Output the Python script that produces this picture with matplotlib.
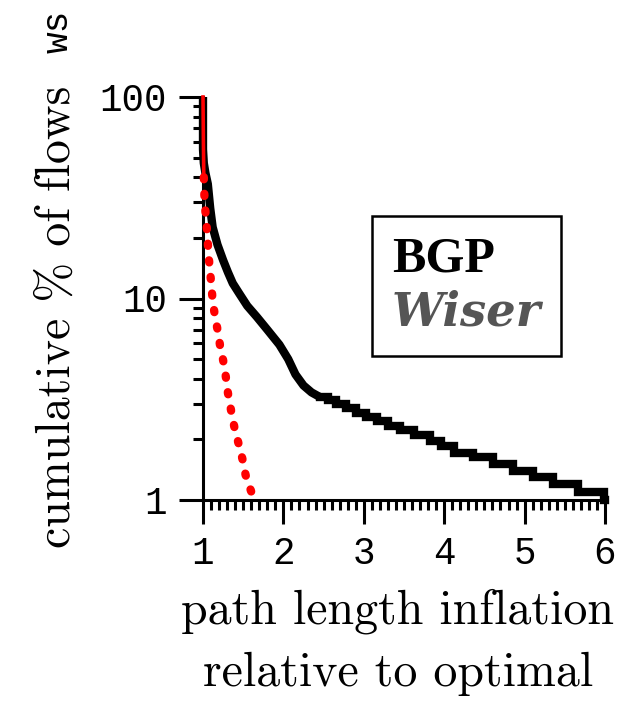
import numpy as np
import matplotlib
matplotlib.use("Agg")
import matplotlib.pyplot as plt
from matplotlib.lines import Line2D

# path length inflation (x) vs cumulative % of flows (y)
# smooth head of the BGP curve
bgp_x = [1.0, 1.0, 1.01, 1.03, 1.06, 1.09, 1.12, 1.18, 1.25, 1.31, 1.37, 1.45,
         1.55, 1.67, 1.80, 1.95, 2.06, 2.15, 2.25, 2.35, 2.45]
bgp_y = [100, 55, 47, 42, 37, 28, 22.6, 18.5, 15.5, 13.5, 11.9, 10.6,
         9.2, 8.1, 7.0, 5.9, 5.0, 4.2, 3.7, 3.42, 3.25]
# stepped tail of the BGP curve
bgp_step_x = [2.45, 2.55, 2.65, 2.78, 2.90, 3.03, 3.16, 3.30, 3.45, 3.63, 3.82,
              3.96, 4.12, 4.36, 4.61, 4.86, 5.10, 5.35, 5.66, 5.99, 6.0]
bgp_step_y = [3.25, 3.12, 3.0, 2.85, 2.70, 2.58, 2.46, 2.34, 2.22, 2.10, 1.97,
              1.86, 1.72, 1.63, 1.51, 1.40, 1.30, 1.20, 1.09, 1.0, 1.0]

wiser_top_x = [1.0, 1.005, 1.01]
wiser_top_y = [100, 60, 40]
wiser_x = [1.01, 1.02, 1.04, 1.075, 1.10, 1.12, 1.15, 1.19, 1.22, 1.25, 1.28,
           1.31, 1.35, 1.39, 1.44, 1.49, 1.53, 1.60]
wiser_y = [40, 30, 24.5, 15.5, 12.1, 9.8, 8.1, 6.7, 5.55, 4.95, 4.2,
           3.4, 2.77, 2.30, 1.92, 1.60, 1.33, 1.10]

x_ticks = [1, 2, 3, 4, 5, 6]
y_ticks = [1, 10, 100]

fig = plt.figure(figsize=(6.18, 7.02), dpi=100)
ax = fig.add_axes([203/618, 1-500/702, 402/618, 403/702])

ax.plot(bgp_x, bgp_y, color="black", lw=6, solid_capstyle="butt",
        clip_on=False, zorder=2)
ax.plot(bgp_step_x, bgp_step_y, color="black", lw=6, drawstyle="steps-post",
        solid_joinstyle="miter", clip_on=False, zorder=2)
ax.plot(wiser_top_x, wiser_top_y, color="red", lw=2.6, clip_on=False, zorder=3)
ax.plot(wiser_x, wiser_y, color="red", lw=6, dashes=(0.25, 1.75),
        dash_capstyle="round", clip_on=False, zorder=3)

ax.set_yscale("log")
ax.set_xlim(1, 6)
ax.set_ylim(1, 100)
ax.set_xticks(x_ticks)
ax.set_xticks(np.arange(1, 6.01, 0.1), minor=True)
ax.set_yticks(y_ticks)
ax.set_xticklabels([str(t) for t in x_ticks])
ax.set_yticklabels([str(t) for t in y_ticks])

for side in ["top", "right"]:
    ax.spines[side].set_visible(False)
for side in ["left", "bottom"]:
    ax.spines[side].set_linewidth(2.2)

ax.tick_params(which="major", length=17, width=2.2, direction="out", pad=9,
               labelsize=27)
ax.tick_params(which="minor", length=7.5, width=2.2, direction="out")
for lab in ax.get_xticklabels() + ax.get_yticklabels():
    lab.set_family("Liberation Mono")

ax.set_ylabel("cumulative % of flows", family="cmr10", fontsize=34.5, labelpad=14)
ax.yaxis.label.set_y(0.455)
ax.set_xlabel("path length inflation\nrelative to optimal", family="cmr10",
              fontsize=34.5, labelpad=12, linespacing=1.5)
ax.xaxis.label.set_x(0.485)

fig.text(58/618, 1-31/702, "ws", rotation=90, family="Liberation Mono",
         fontsize=26, ha="center", va="center")

h = [Line2D([], [], alpha=0), Line2D([], [], alpha=0)]
leg = ax.legend(h, ["BGP", "Wiser"], loc="upper left",
                bbox_to_anchor=(372/618, 1-216/702), bbox_transform=fig.transFigure,
                borderaxespad=0, handlelength=0, handletextpad=0, borderpad=0.4,
                labelspacing=0.15, fancybox=False, edgecolor="black", framealpha=1,
                prop={"family": "Liberation Serif", "weight": "bold", "size": 36})
leg.get_frame().set_linewidth(1.8)
t1, t2 = leg.get_texts()
t2.set_family("DejaVu Serif")
t2.set_style("italic")
t2.set_weight("bold")
t2.set_size(33.5)
t2.set_color("#555555")

fig.savefig("out.png", dpi=100)
